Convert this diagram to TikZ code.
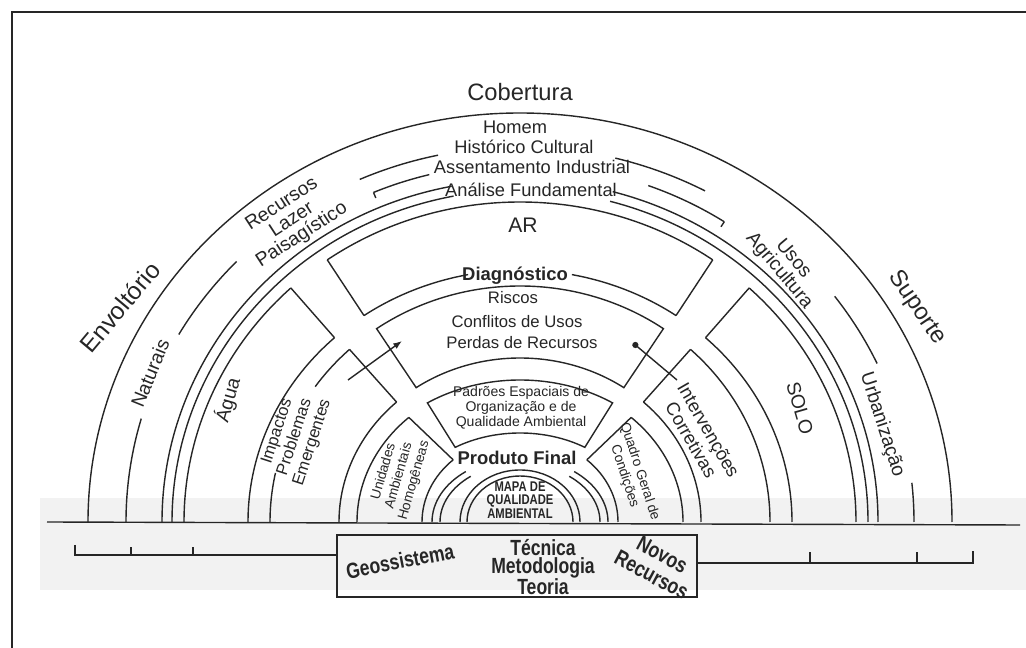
\documentclass[tikz,border=0pt]{standalone}
\usepackage{fontspec}
\setmainfont{Liberation Sans}
\newfontfamily\narrowfont[FakeStretch=0.8]{Liberation Sans}
\usetikzlibrary{calc,arrows.meta}

% elliptic arc about (c): x radius, y radius, from, to
\newcommand{\ringarc}[4]{\draw (c) ++(#3:#1 and #2) arc[start angle=#3,end angle=#4,x radius=#1,y radius=#2];}
% radial edge at an angle between two rings
\newcommand{\spoke}[5]{\draw ($(c)+(#1:#2 and #3)$) -- ($(c)+(#1:#4 and #5)$);}
% closed annular box
\newcommand{\sector}[6]{\draw ($(c)+(#5:#1 and #2)$) arc[start angle=#5,end angle=#6,x radius=#1,y radius=#2] -- ($(c)+(#6:#3 and #4)$) arc[start angle=#6,end angle=#5,x radius=#3,y radius=#4] -- cycle;}

\begin{document}
\begin{tikzpicture}[x=0.02cm, y=0.02cm, line width=0.8pt, draw=black!85,
  every node/.style={inner sep=0pt, text=black!85},
  big/.style={font=\fontsize{13.5}{15}\selectfont},
  ring/.style={font=\fontsize{10.4}{11}\selectfont},
  side/.style={font=\fontsize{11}{10.5}\selectfont, align=center},
  small/.style={font=\fontsize{9.5}{10.5}\selectfont, align=center},
  tiny/.style={font=\fontsize{7.8}{9}\selectfont, align=center},
  base/.style={font=\narrowfont\bfseries\fontsize{12.5}{13}\selectfont, align=center}]
\useasboundingbox (0,0) rectangle (1026,648);
\fill[black!5] (40,58) rectangle (1026,150);
\draw[line width=1.4pt] (12,0) -- (12,636) -- (1026,636);
\coordinate (c) at (520,126);

% outer rings
\ringarc{432}{409}{0}{180}
\foreach \a/\b in {0/6, 25/37, 62/76, 102/114, 136/150, 164/180} {
  \ringarc{394}{375}{\a}{\b}
}
\ringarc{375}{358}{57}{70}
\ringarc{375}{358}{104}{113}
\spoke{57}{375}{358}{369}{352}
\spoke{113}{375}{358}{369}{352}
\foreach \a/\b in {0/75, 101/180} {
  \ringarc{358}{342}{\a}{\b}
  \ringarc{348}{332}{\a}{\b}
}

% first layer: Agua, AR, SOLO
\ringarc{336}{320}{133}{180}
\ringarc{272}{252}{133}{180}
\spoke{133}{336}{320}{272}{252}
\ringarc{336}{320}{0}{47}
\ringarc{272}{252}{0}{47}
\spoke{47}{336}{320}{272}{252}
\ringarc{336}{320}{55}{125}
\spoke{55}{336}{320}{272}{252}
\spoke{125}{336}{320}{272}{252}
\ringarc{272}{252}{55}{79}
\ringarc{272}{252}{101}{125}

% second layer
\foreach \a/\b in {133/145, 168/180} {
  \ringarc{250}{236}{\a}{\b}
}
\ringarc{181}{164}{133}{180}
\spoke{133}{250}{236}{181}{164}
\ringarc{250}{236}{0}{47}
\ringarc{181}{164}{0}{47}
\spoke{47}{250}{236}{181}{164}
\sector{250}{236}{181}{164}{55}{125}

% third layer
\sector{170}{142}{119}{89}{57}{123}
\ringarc{163}{143}{133}{180}
\ringarc{98}{85}{133}{180}
\spoke{133}{163}{143}{98}{85}
\ringarc{163}{143}{0}{47}
\ringarc{98}{85}{0}{47}
\spoke{47}{163}{143}{98}{85}

% centre
\foreach \a/\b in {0/52, 128/180} {
  \ringarc{88}{64}{\a}{\b}
  \ringarc{80}{58}{\a}{\b}
}
\ringarc{60}{52}{0}{180}
\ringarc{53}{46}{0}{180}

% ground and rulers
\draw (47,126) -- (1020,123);
\node[draw, minimum width=7.2cm, minimum height=1.24cm] (box) at (517,82) {};
\draw (75,103) -- (75,93) -- (box.west |- 0,93);
\foreach \x in {131,193} {
  \draw (\x,93) -- (\x,101);
}
\draw (box.east |- 0,85) -- (973,85) -- (973,97);
\foreach \x in {810,917} {
  \draw (\x,85) -- (\x,96);
}

% labels
\node[big] (cob) at (520,556) {Cobertura};
\node[big, rotate=50, font=\fontsize{14}{15}\selectfont] (env) at (120,341) {Envoltório};
\node[big, rotate=-56] (sup) at (917,340) {Suporte};
\node[ring] (hom) at (515,521) {Homem};
\node[ring] (his) at (524,501) {Histórico Cultural};
\node[ring] (ass) at (532,481) {Assentamento Industrial};
\node[ring] (ana) at (531,458) {Análise Fundamental};
\node[side, rotate=68] (nat) at (150,275) {Naturais};
\node[side, rotate=33] (rec) at (292,428) {Recursos\\Lazer\\Paisagístico};
\node[side, rotate=-50] (uso) at (786,383) {Usos\\Agricultura};
\node[side, rotate=-72] (urb) at (882,223) {Urbanização};
\node[side, rotate=74] (agu) at (228,248) {Água};
\node[side, rotate=-74] (solo) at (800,240) {SOLO};
\node[font=\fontsize{12}{13}\selectfont] (ar) at (523,423) {AR};
\node[font=\bfseries\fontsize{10.5}{12}\selectfont] (dia) at (515,372) {Diagnóstico};
\node[small] (ris) at (513,350) {Riscos};
\node[small] (con) at (517,326) {Conflitos de Usos};
\node[small] (per) at (522,305) {Perdas de Recursos};
\node[small, rotate=72] (imp) at (295,211) {Impactos\\Problemas\\Emergentes};
\node[small, rotate=-60, font=\fontsize{10.5}{11.5}\selectfont] (int) at (700,213) {Intervenções\\Corretivas};
\node[font=\fontsize{8}{8.6}\selectfont, align=center] (pad) at (521,240) {Padrões Espaciais de\\Organização e de\\Qualidade Ambiental};
\node[tiny, rotate=74] (uni) at (399,172) {Unidades\\Ambientais\\Homogêneas};
\node[tiny, rotate=-72] (qua) at (632,174) {Quadro Geral de\\Condições};
\node[font=\bfseries\fontsize{10.5}{11}\selectfont] (pro) at (517,190) {Produto Final};
\node[font=\narrowfont\bfseries\fontsize{8}{7.7}\selectfont, align=center] (map) at (520,148) {MAPA DE\\QUALIDADE\\AMBIENTAL};
\node[base, rotate=11] (geo) at (400,87) {Geossistema};
\node[base] (tec) at (543,100) {Técnica};
\node[base] (met) at (543,80) {Metodologia};
\node[base] (teo) at (543,61) {Teoria};
\node[base, rotate=-28] (nov) at (657,83) {Novos\\Recursos};

% arrows
\coordinate (impS) at (348,268);
\coordinate (impT) at (402,307);
\coordinate (intS) at (677,268);
\coordinate (intT) at (633,305);
\draw[-{Latex[length=5pt]}] (impS) -- (impT);
\draw[-{Circle[length=3.5pt]}] (intS) -- (intT);
\end{tikzpicture}
\end{document}
